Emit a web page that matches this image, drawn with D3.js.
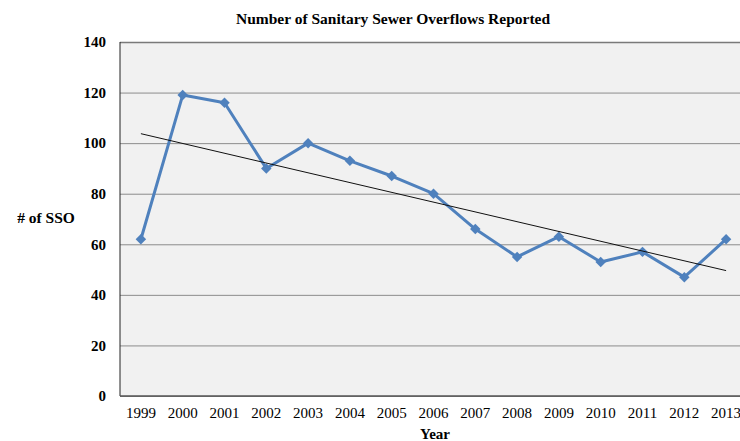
<!DOCTYPE html>
<html>
<head>
<meta charset="utf-8">
<script src="https://cdn.jsdelivr.net/npm/d3@7/dist/d3.min.js"></script>
<style>
  html, body { margin: 0; padding: 0; background: #fff; }
  svg { display: block; }
  text { font-family: "Liberation Serif", "DejaVu Serif", serif; fill: #000; }
</style>
</head>
<body>
<svg id="chart" width="740" height="441"></svg>
<script>
// Annual count of sanitary sewer overflows
const years = ["1999", "2000", "2001", "2002", "2003", "2004", "2005", "2006",
               "2007", "2008", "2009", "2010", "2011", "2012", "2013"];
const ssoCounts = [62, 119, 116, 90, 100, 93, 87, 80, 66, 55, 63, 53, 57, 47, 62];
const yTicks = [0, 20, 40, 60, 80, 100, 120, 140];

const svg = d3.select("#chart");
const W = 740, H = 441;
const plot = { left: 120, top: 42, bottom: 396, right: 747 };

const x = d3.scaleBand().domain(years).range([plot.left, plot.right]).padding(0);
const y = d3.scaleLinear().domain([0, 140]).range([plot.bottom, plot.top]);
const cx = d => x(d) + x.bandwidth() / 2;

// Plot area background
svg.append("rect")
  .attr("x", plot.left).attr("y", plot.top)
  .attr("width", W - plot.left).attr("height", plot.bottom - plot.top)
  .attr("fill", "#f1f1f1");

// Horizontal gridlines
const yAxis = d3.axisLeft(y).tickValues(yTicks).tickSize(-(W - plot.left)).tickFormat(d3.format("d"));
const gy = svg.append("g").attr("transform", `translate(${plot.left},0)`).call(yAxis);
gy.select(".domain").remove();
gy.selectAll(".tick line")
  .attr("stroke", d => d === 140 ? "#7a7a7a" : "#8c8c8c")
  .attr("stroke-width", d => d === 140 ? 1.5 : 1);
gy.selectAll(".tick text")
  .attr("x", -14)
  .style("font-size", "15px").style("font-weight", "bold")
  .attr("fill", "#111");

// Axis lines
svg.append("line").attr("x1", plot.left).attr("x2", plot.left)
  .attr("y1", plot.top).attr("y2", plot.bottom).attr("stroke", "#222").attr("stroke-width", 1);
svg.append("line").attr("x1", plot.left).attr("x2", W)
  .attr("y1", plot.bottom).attr("y2", plot.bottom).attr("stroke", "#555").attr("stroke-width", 1.5);

// Category axis labels
const xAxis = d3.axisBottom(x).tickSize(0).tickPadding(11);
const gx = svg.append("g").attr("transform", `translate(0,${plot.bottom})`).call(xAxis);
gx.select(".domain").remove();
gx.selectAll(".tick text").style("font-size", "15px").attr("fill", "#111");

// Data series
const points = years.map((yr, i) => ({ yr, v: ssoCounts[i] }));
svg.append("path")
  .datum(points)
  .attr("fill", "none")
  .attr("stroke", "#4f81bd")
  .attr("stroke-width", 3)
  .attr("stroke-linejoin", "round")
  .attr("d", d3.line().x(d => cx(d.yr)).y(d => y(d.v)));

svg.append("g").selectAll("path")
  .data(points)
  .join("path")
  .attr("transform", d => `translate(${cx(d.yr)},${y(d.v)})`)
  .attr("d", d3.symbol().type(d3.symbolDiamond2).size(70))
  .attr("fill", "#4f81bd");

// Linear trend line (least squares)
const n = ssoCounts.length;
const idx = d3.range(n);
const mx = d3.mean(idx), my = d3.mean(ssoCounts);
const slope = d3.sum(idx, i => (i - mx) * (ssoCounts[i] - my)) / d3.sum(idx, i => (i - mx) ** 2);
const icpt = my - slope * mx;
svg.append("line")
  .attr("x1", cx(years[0])).attr("y1", y(icpt))
  .attr("x2", cx(years[n - 1])).attr("y2", y(icpt + slope * (n - 1)))
  .attr("stroke", "#111").attr("stroke-width", 1);

// Titles
svg.append("text").attr("x", 393).attr("y", 24).attr("text-anchor", "middle")
  .style("font-size", "15.5px").style("font-weight", "bold")
  .text("Number of Sanitary Sewer Overflows Reported");
svg.append("text").attr("x", 46).attr("y", 223).attr("text-anchor", "middle")
  .style("font-size", "15.5px").style("font-weight", "bold")
  .text("# of SSO");
svg.append("text").attr("x", 435).attr("y", 439).attr("text-anchor", "middle")
  .style("font-size", "15px").style("font-weight", "bold")
  .text("Year");
</script>
</body>
</html>
